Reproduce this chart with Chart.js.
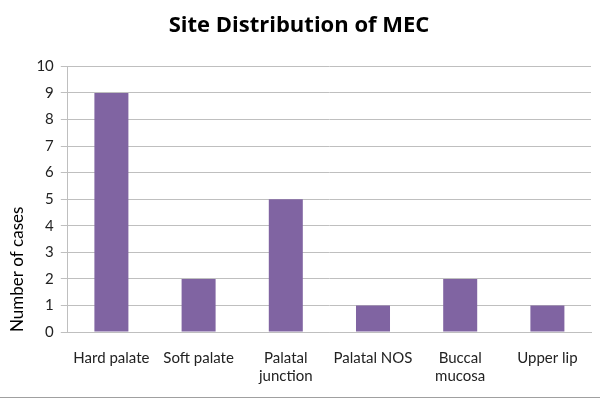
<!DOCTYPE html>
<html><head><meta charset="utf-8">
<script src="https://cdn.jsdelivr.net/npm/chart.js@4"></script>
<style>html,body{margin:0;padding:0;background:#fff}#w{width:600px;height:417px;position:relative}</style>
</head><body><div id="w"><canvas id="c" width="600" height="417"></canvas></div>
<script>
const categories = [["Hard palate"], ["Soft palate"], ["Palatal", "junction"], ["Palatal NOS"], ["Buccal", "mucosa"], ["Upper lip"]];
const cases = [9, 2, 5, 1, 2, 1];
const yTicks = [0,1,2,3,4,5,6,7,8,9,10];
const titleText = "Site Distribution of MEC";
const yTitle = "Number of cases";

const bottomLine = {
  id: 'bottomLine',
  afterDraw(chart) {
    const ctx = chart.ctx;
    ctx.save();
    ctx.strokeStyle = '#a0a0a0';
    ctx.lineWidth = 1;
    ctx.beginPath();
    ctx.moveTo(0, 397.5); ctx.lineTo(600, 397.5);
    ctx.stroke();
    ctx.restore();
  }
};

new Chart(document.getElementById('c'), {
  type: 'bar',
  data: { labels: categories, datasets: [{ data: cases, backgroundColor: '#8064A2', barPercentage: 0.39, categoryPercentage: 1.0 }] },
  options: {
    responsive: false, animation: false,
    layout: { padding: { left: 7, right: 9, top: 0, bottom: 15 } },
    plugins: {
      legend: { display: false }, tooltip: { enabled: false },
      title: { display: true, text: titleText, color: '#000', font: { family: 'Open Sans', size: 22, weight: 'bold' }, padding: { top: 13, bottom: 27 } }
    },
    scales: {
      x: {
        grid: { display: false, drawTicks: false },
        border: { color: '#bfbfbf' },
        ticks: { color: '#222', font: { family: 'Lato', size: 15 }, maxRotation: 0, autoSkip: false, padding: 17 }
      },
      y: {
        min: 0, max: 10,
        afterBuildTicks(axis) { axis.ticks = yTicks.map(v => ({ value: v })); },
        grid: { color: '#bfbfbf', tickLength: 7 },
        border: { color: '#bfbfbf' },
        ticks: { color: '#222', font: { family: 'Lato', size: 15 }, padding: 7 },
        title: { display: true, text: yTitle, align: 'start', color: '#000', font: { family: 'Lato', size: 17 }, padding: { top: 0, bottom: 2 } }
      }
    }
  },
  plugins: [bottomLine]
});
</script></body></html>
